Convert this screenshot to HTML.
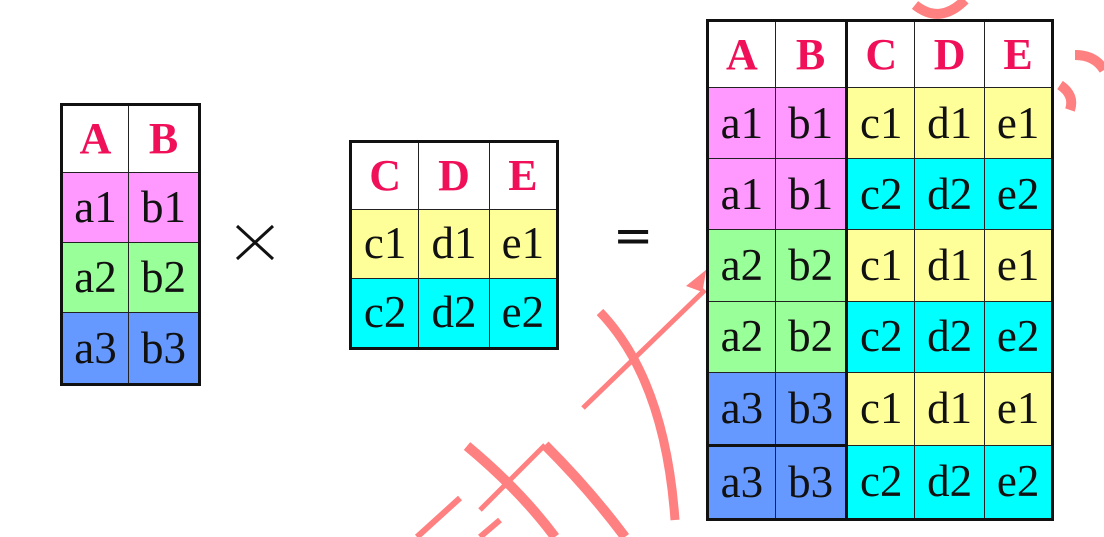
<!DOCTYPE html>
<html><head><meta charset="utf-8"><style>
body{margin:0;width:1104px;height:537px;background:#fff;position:relative;overflow:hidden;font-family:"Liberation Serif",serif}
.t{position:absolute;border-collapse:collapse;border:3px solid #111}
.t td{border:1.5px solid #222;text-align:center;padding:0;font-size:45px;color:#111;line-height:1}
.t th{border:1.5px solid #222;background:#fff;color:#f0105a;font-size:44px;font-weight:bold;padding:0;line-height:1}
.p{background:#ff99ff}.g{background:#99ff99}.b{background:#6699ff}.y{background:#ffff99}.c{background:#00ffff}
.op{position:absolute;font-family:"DejaVu Sans",sans-serif;font-size:48px;color:#111}
svg{position:absolute;left:0;top:0}
</style></head><body>
<svg width="1104" height="537">
<g fill="none" stroke="#ff8080" stroke-linecap="butt">
<path d="M583,408 L705,290" stroke-width="5"/>
<path d="M700,288 l-8,-3 l10,-8 z" stroke-width="6"/>
<path d="M600,312 Q665,380 675,520" stroke-width="9"/>
<path d="M467,446 Q520,490 555,537" stroke-width="10"/>
<path d="M480,510 L545,445" stroke-width="5"/>
<path d="M545,445 Q590,490 625,537" stroke-width="10"/>
<path d="M417,537 L460,498" stroke-width="6"/>
<path d="M480,537 L500,520" stroke-width="6"/>
<path d="M915,5 Q940,25 965,0" stroke-width="10"/>
<path d="M1075,55 Q1095,55 1104,70" stroke-width="10"/>
<path d="M1060,85 Q1075,95 1070,110" stroke-width="10"/>
</g>
<g stroke="#111" stroke-width="3">
<path d="M237,226 L273,259 M273,226 L237,259"/></g>
</svg>
<table class="t" style="left:60px;top:103px;width:141px;height:283px">
<tr style="height:68px"><th>A</th><th>B</th></tr>
<tr><td class="p">a1</td><td class="p">b1</td></tr>
<tr><td class="g">a2</td><td class="g">b2</td></tr>
<tr><td class="b">a3</td><td class="b">b3</td></tr></table>
<table class="t" style="left:349px;top:140px;width:210px;height:210px">
<tr style="height:68px"><th>C</th><th>D</th><th>E</th></tr>
<tr><td class="y">c1</td><td class="y">d1</td><td class="y">e1</td></tr>
<tr><td class="c">c2</td><td class="c">d2</td><td class="c">e2</td></tr></table>
<div class="op" style="left:613px;top:208px">=</div>
<table class="t" style="left:706px;top:19px;width:348px;height:502px">
<tr style="height:67px"><th>A</th><th>B</th><th style="border-left:3px solid #111">C</th><th>D</th><th>E</th></tr>
<tr><td class="p">a1</td><td class="p">b1</td><td class="y" style="border-left:3px solid #111">c1</td><td class="y">d1</td><td class="y">e1</td></tr>
<tr><td class="p">a1</td><td class="p">b1</td><td class="c" style="border-left:3px solid #111">c2</td><td class="c">d2</td><td class="c">e2</td></tr>
<tr><td class="g">a2</td><td class="g">b2</td><td class="y" style="border-left:3px solid #111">c1</td><td class="y">d1</td><td class="y">e1</td></tr>
<tr><td class="g">a2</td><td class="g">b2</td><td class="c" style="border-left:3px solid #111">c2</td><td class="c">d2</td><td class="c">e2</td></tr>
<tr><td class="b">a3</td><td class="b">b3</td><td class="y" style="border-left:3px solid #111">c1</td><td class="y">d1</td><td class="y">e1</td></tr>
<tr><td class="b" style="border-top:3px solid #111">a3</td><td class="b" style="border-top:3px solid #111">b3</td><td class="c" style="border-left:3px solid #111">c2</td><td class="c">d2</td><td class="c">e2</td></tr></table>
</body></html>
